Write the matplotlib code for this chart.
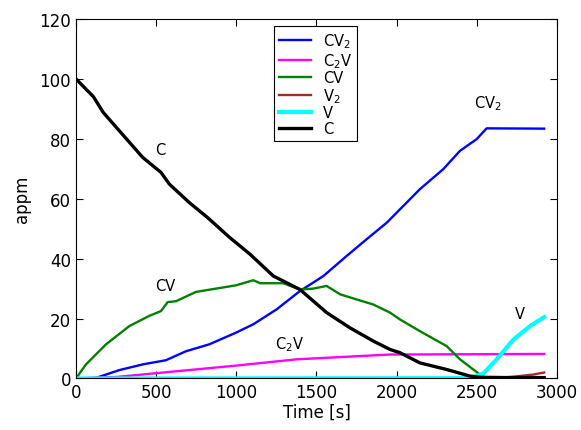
import matplotlib
matplotlib.use('Agg')
import matplotlib.pyplot as plt

# concentrations (appm) against time (s)
t_c = [0, 108, 170, 270, 416, 530, 582, 707, 821, 960, 1085, 1231, 1397, 1563,
       1709, 1854, 1958, 2021, 2145, 2312, 2457, 2520, 2700, 2920]
c = [100, 94.1, 88.8, 82.7, 73.8, 68.8, 64.9, 58.7, 53.7, 47.0, 41.5, 34.2, 29.7,
     22.0, 16.9, 12.5, 9.7, 8.6, 5.2, 3.0, 0.8, 0.4, 0.3, 0.3]

t_cv = [0, 62, 187, 333, 457, 530, 572, 624, 748, 873, 998, 1106, 1148, 1293,
        1397, 1480, 1563, 1647, 1750, 1854, 1958, 2021, 2145, 2312, 2395, 2478,
        2520, 2560, 2920]
cv = [0, 4.7, 11.4, 17.5, 20.9, 22.5, 25.5, 25.8, 28.9, 30.0, 31.1, 32.8, 31.8,
      31.8, 29.7, 30.0, 30.9, 28.1, 26.4, 24.7, 22.0, 19.7, 15.8, 10.8, 6.4, 3.0,
      1.3, 0.1, 0.0]

t_cv2 = [0, 125, 270, 416, 561, 686, 831, 998, 1106, 1252, 1397, 1543, 1688,
         1813, 1938, 2145, 2291, 2395, 2499, 2561, 2920]
cv2 = [0, 0.2, 2.8, 4.7, 6.1, 9.1, 11.4, 15.3, 18.1, 23.1, 29.2, 34.2, 40.9,
       46.5, 52.0, 63.2, 69.9, 76.0, 79.9, 83.5, 83.4]

t_c2v = [0, 250, 624, 998, 1376, 1958, 2500, 2920]
c2v = [0, 0.5, 2.4, 4.3, 6.4, 8.0, 8.1, 8.2]

t_v = [0, 2450, 2520, 2541, 2624, 2728, 2832, 2920]
v = [0, 0.1, 1.3, 1.7, 6.4, 13.0, 17.5, 20.5]

t_v2 = [0, 2600, 2728, 2850, 2920]
v2 = [0, 0.1, 0.6, 1.3, 2.0]

plt.rcParams['font.family'] = 'DejaVu Sans'
plt.rcParams['xtick.direction'] = 'in'
plt.rcParams['ytick.direction'] = 'in'
plt.rcParams['xtick.top'] = True
plt.rcParams['ytick.right'] = True

fig = plt.figure(figsize=(5.81, 4.31), dpi=100)
ax = fig.add_axes([0.1308, 0.1195, 0.8279, 0.8341])

ax.plot(t_cv2, cv2, color='#0000ff', lw=1.7, label='CV$_2$')
ax.plot(t_c2v, c2v, color='#ff00ff', lw=1.7, label='C$_2$V')
ax.plot(t_cv, cv, color='#008000', lw=1.7, label='CV')
ax.plot(t_v2, v2, color='#a52a2a', lw=1.7, label='V$_2$')
ax.plot(t_v, v, color='#00ffff', lw=3.0, label='V')
ax.plot(t_c, c, color='black', lw=2.4, label='C')

ax.text(524, 76.5, 'C', fontsize=10.5, ha='center', va='center')
ax.text(555, 31, 'CV', fontsize=10.5, ha='center', va='center')
ax.text(1335, 11.7, 'C$_2$V', fontsize=10.5, ha='center', va='center')
ax.text(2570, 92, 'CV$_2$', fontsize=10.5, ha='center', va='center')
ax.text(2770, 21.7, 'V', fontsize=10.5, ha='center', va='center')

ax.set_xlim(0, 3000)
ax.set_ylim(0, 120)
ax.set_xticks(range(0, 3001, 500))
ax.set_yticks(range(0, 121, 20))
ax.tick_params(labelsize=12, length=5, width=0.8)
ax.set_xlabel('Time [s]', fontsize=12, labelpad=1)
ax.set_ylabel('appm', fontsize=12, labelpad=6)

leg = ax.legend(loc='upper center', bbox_to_anchor=(0.498, 1.0), fontsize=10.5,
                fancybox=False, edgecolor='black', framealpha=1,
                handlelength=2.2, labelspacing=0.05, borderpad=0.35)
leg.get_frame().set_linewidth(0.8)

fig.savefig('out.png', dpi=100)
